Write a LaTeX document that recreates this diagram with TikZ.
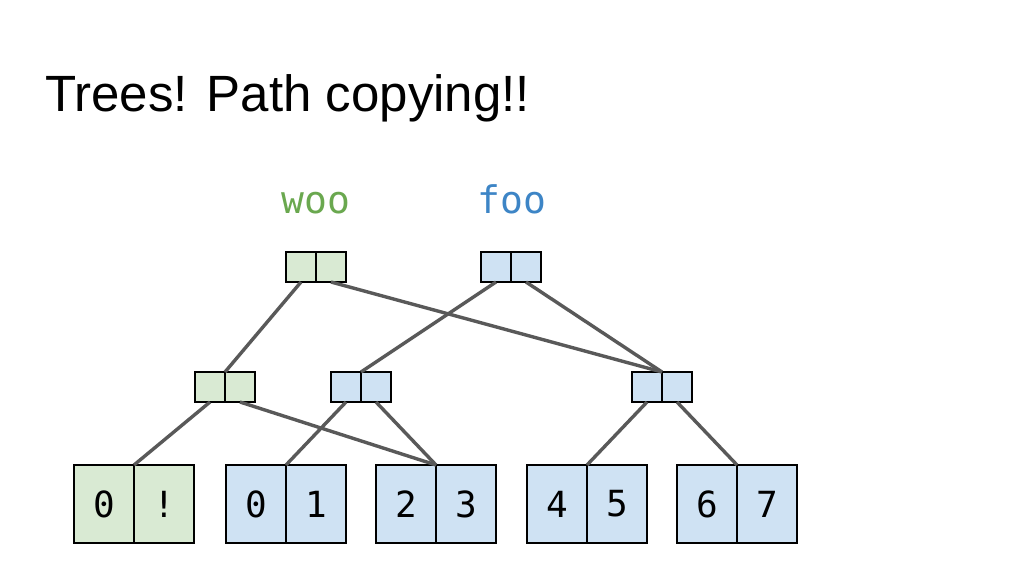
\documentclass[tikz,border=0pt]{standalone}
\usepackage{fontspec}
\setmainfont{Liberation Sans}
\setmonofont{DejaVu Sans Mono}
\definecolor{gfill}{HTML}{D9EAD3}
\definecolor{bfill}{HTML}{CFE2F3}
\definecolor{gtext}{HTML}{6AA84F}
\definecolor{btext}{HTML}{3D85C6}
\definecolor{edge}{HTML}{595959}
\tikzset{
  cell/.style={draw=black, line width=2.7pt, inner sep=0pt, outer sep=0pt, minimum width=30pt, minimum height=30pt},
  gcell/.style={cell, fill=gfill},
  bcell/.style={cell, fill=bfill},
  leafcell/.style={minimum width=60pt, minimum height=78pt, font=\ttfamily\fontsize{36}{36}\selectfont},
  conn/.style={draw=edge, line width=3.4pt},
  lbl/.style={anchor=base, inner sep=0pt, font=\ttfamily\fontsize{38}{38}\selectfont}
}
\begin{document}
\begin{tikzpicture}[x=1pt, y=-1pt]
\useasboundingbox[fill=white] (0,0) rectangle (1024,576);
\node[anchor=base west, inner sep=0pt, font=\fontsize{51}{60}\selectfont] (title) at (45,111) {Trees! Path copying!!};
\node[lbl, text=gtext] (woo) at (316,213) {woo};
\node[lbl, text=btext] (foo) at (512,213) {foo};
% top level
\node[gcell] (tgL) at (301,267) {};
\node[gcell] (tgR) at (331,267) {};
\node[bcell] (tbL) at (496,267) {};
\node[bcell] (tbR) at (526,267) {};
% middle level
\node[gcell] (mgL) at (210,387) {};
\node[gcell] (mgR) at (240,387) {};
\node[bcell] (mbL) at (346,387) {};
\node[bcell] (mbR) at (376,387) {};
\node[bcell] (mrL) at (647,387) {};
\node[bcell] (mrR) at (677,387) {};
% leaves
\node[gcell, leafcell] (lgL) at (104,504) {0};
\node[gcell, leafcell] (lgR) at (164,504) {!};
\node[bcell, leafcell] (l01L) at (256,504) {0};
\node[bcell, leafcell] (l01R) at (316,504) {1};
\node[bcell, leafcell] (l23L) at (406,504) {2};
\node[bcell, leafcell] (l23R) at (466,504) {3};
\node[bcell, leafcell] (l45L) at (557,504) {4};
\node[bcell, leafcell] (l45R) at (617,504) {5};
\node[bcell, leafcell] (l67L) at (707,504) {6};
\node[bcell, leafcell] (l67R) at (767,504) {7};
% connectors
\draw[conn] (tgL.south) -- (mgL.north east);
\draw[conn] (tgR.south) -- (mrL.north east);
\draw[conn] (tbL.south) -- (mbL.north east);
\draw[conn] (tbR.south) -- (mrL.north east);
\draw[conn] (mgL.south) -- (lgL.north east);
\draw[conn] (mgR.south) -- (l23L.north east);
\draw[conn] (mbL.south) -- (l01L.north east);
\draw[conn] (mbR.south) -- (l23L.north east);
\draw[conn] (mrL.south) -- (l45L.north east);
\draw[conn] (mrR.south) -- (l67L.north east);
\end{tikzpicture}
\end{document}
